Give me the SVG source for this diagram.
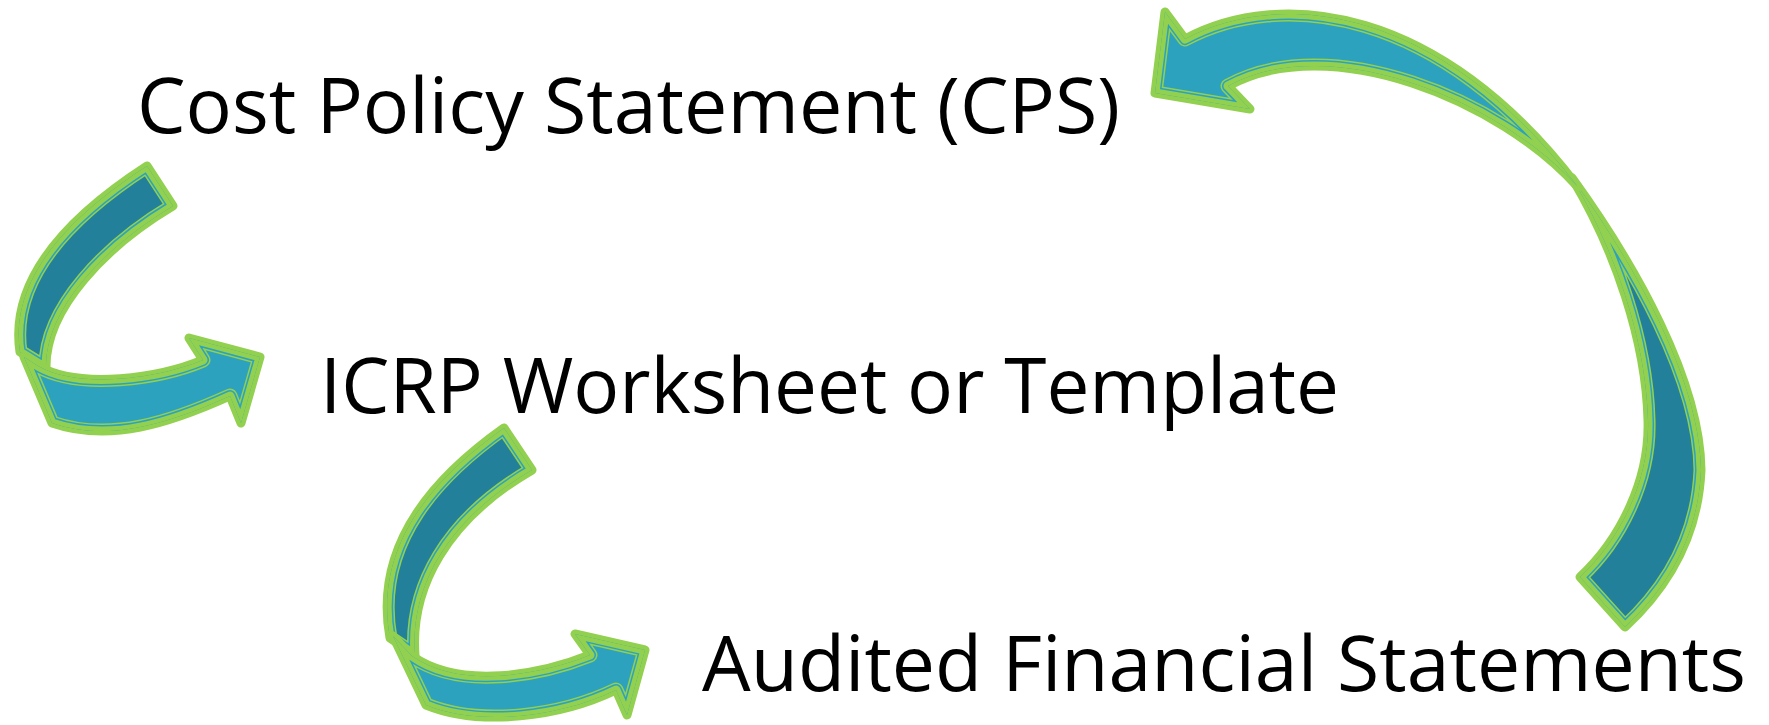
<svg xmlns="http://www.w3.org/2000/svg" xmlns:xlink="http://www.w3.org/1999/xlink" width="1769" height="725" viewBox="0 0 1769 725">
<style>
  .lbl { font-family: "Open Sans", "Noto Sans", "DejaVu Sans", sans-serif; font-size: 76px; fill: #000; }
  .dark { fill: #23809a; stroke: #92d050; stroke-width: 9; stroke-linejoin: round; }
  .light { fill: #2ca2bf; stroke: #92d050; stroke-width: 9; stroke-linejoin: round; }
  .i1 { fill: none; stroke: #92d050; stroke-width: 15; stroke-linejoin: round; }
  .i2 { fill: none; stroke: #2ca2bf; stroke-width: 12; stroke-linejoin: round; }
  .i3 { fill: none; stroke: #92d050; stroke-width: 9; stroke-linejoin: round; }
</style>
<defs>
  <path id="a1d" d="M147,166 C82,208 8,272 20,352 L46,368 C45,308 106,246 173,206 Z"/>
  <path id="a1l" d="M24,357 L52,423 C110,443 170,423 230,396 L241,423 L260,357 L189,338 L203,360 C160,378 80,390 38,366 Z"/>
  <path id="a3d" d="M504,428 C442,472 372,540 390,638 L415,655 C410,588 446,520 532,470 Z"/>
  <path id="a3l" d="M393,636 L426,705 C480,727 560,717 616,690 L627,715 L645,650 L575,634 L590,655 C540,675 460,690 412,656 Z"/>
  <path id="a2d" d="M1572,178 C1635,265 1700,380 1701,470 C1698,540 1665,590 1625,627 L1580,577 C1620,540 1650,480 1648,420 C1646,340 1615,250 1572,178 Z"/>
  <path id="a2l" d="M1185,39 C1280,-12 1440,5 1578,187 C1500,100 1330,30 1228,86 L1250,109 L1155,93 L1165,12 Z"/>
  <clipPath id="c1d"><use xlink:href="#a1d"/></clipPath>
  <clipPath id="c1l"><use xlink:href="#a1l"/></clipPath>
  <clipPath id="c3d"><use xlink:href="#a3d"/></clipPath>
  <clipPath id="c3l"><use xlink:href="#a3l"/></clipPath>
  <clipPath id="c2d"><use xlink:href="#a2d"/></clipPath>
  <clipPath id="c2l"><use xlink:href="#a2l"/></clipPath>
</defs>

<g id="connectors">
  <g id="arrow-cps-icrp">
    <use xlink:href="#a1d" class="dark"/>
    <g clip-path="url(#c1d)"><use xlink:href="#a1d" class="i1"/><use xlink:href="#a1d" class="i2"/><use xlink:href="#a1d" class="i3"/></g>
    <use xlink:href="#a1l" class="light"/>
    <g clip-path="url(#c1l)"><use xlink:href="#a1l" class="i1"/><use xlink:href="#a1l" class="i2"/><use xlink:href="#a1l" class="i3"/></g>
  </g>
  <g id="arrow-icrp-afs">
    <use xlink:href="#a3d" class="dark"/>
    <g clip-path="url(#c3d)"><use xlink:href="#a3d" class="i1"/><use xlink:href="#a3d" class="i2"/><use xlink:href="#a3d" class="i3"/></g>
    <use xlink:href="#a3l" class="light"/>
    <g clip-path="url(#c3l)"><use xlink:href="#a3l" class="i1"/><use xlink:href="#a3l" class="i2"/><use xlink:href="#a3l" class="i3"/></g>
  </g>
  <g id="arrow-afs-cps">
    <use xlink:href="#a2d" class="dark"/>
    <g clip-path="url(#c2d)"><use xlink:href="#a2d" class="i1"/><use xlink:href="#a2d" class="i2"/><use xlink:href="#a2d" class="i3"/></g>
    <use xlink:href="#a2l" class="light"/>
    <g clip-path="url(#c2l)"><use xlink:href="#a2l" class="i1"/><use xlink:href="#a2l" class="i2"/><use xlink:href="#a2l" class="i3"/></g>
  </g>
</g>

<g id="node-cps">
  <text class="lbl" x="137" y="133" textLength="983" lengthAdjust="spacingAndGlyphs">Cost Policy Statement (CPS)</text>
</g>
<g id="node-icrp">
  <text class="lbl" x="320" y="413" textLength="1019" lengthAdjust="spacingAndGlyphs">ICRP Worksheet or Template</text>
</g>
<g id="node-afs">
  <text class="lbl" x="702" y="691" textLength="1044" lengthAdjust="spacingAndGlyphs">Audited Financial Statements</text>
</g>
</svg>
